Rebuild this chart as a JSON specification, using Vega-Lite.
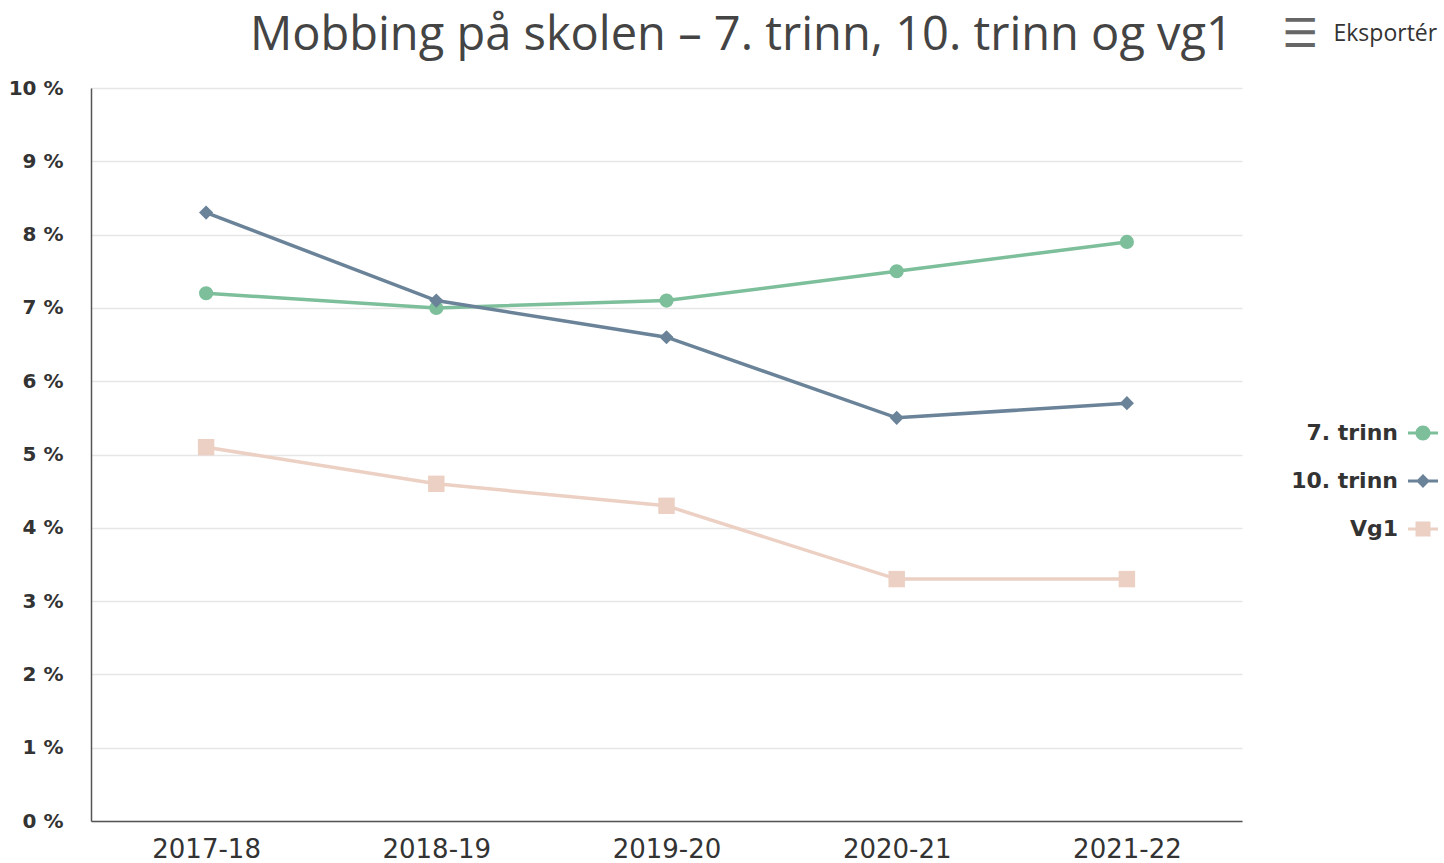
{
  "$schema": "https://vega.github.io/schema/vega-lite/v6.json",
  "width": 1151,
  "height": 733,
  "autosize": {"type": "none"},
  "padding": {"left": 91, "top": 88, "right": 202, "bottom": 42},
  "background": "white",
  "config": {
    "view": {"stroke": null},
    "font": "DejaVu Sans"
  },
  "title": {
    "text": "Mobbing på skolen – 7. trinn, 10. trinn og vg1",
    "font": "Open Sans",
    "fontSize": 47,
    "fontWeight": "normal",
    "color": "#444444",
    "anchor": "end",
    "baseline": "alphabetic",
    "frame": "group",
    "offset": -83,
    "dx": -9
  },
  "data": {
    "values": [
      {"year": "2017-18", "series": "7. trinn", "value": 7.2},
      {"year": "2018-19", "series": "7. trinn", "value": 7.0},
      {"year": "2019-20", "series": "7. trinn", "value": 7.1},
      {"year": "2020-21", "series": "7. trinn", "value": 7.5},
      {"year": "2021-22", "series": "7. trinn", "value": 7.9},
      {"year": "2017-18", "series": "10. trinn", "value": 8.3},
      {"year": "2018-19", "series": "10. trinn", "value": 7.1},
      {"year": "2019-20", "series": "10. trinn", "value": 6.6},
      {"year": "2020-21", "series": "10. trinn", "value": 5.5},
      {"year": "2021-22", "series": "10. trinn", "value": 5.7},
      {"year": "2017-18", "series": "Vg1", "value": 5.1},
      {"year": "2018-19", "series": "Vg1", "value": 4.6},
      {"year": "2019-20", "series": "Vg1", "value": 4.3},
      {"year": "2020-21", "series": "Vg1", "value": 3.3},
      {"year": "2021-22", "series": "Vg1", "value": 3.3}
    ]
  },
  "encoding": {
    "color": {
      "field": "series",
      "type": "nominal",
      "sort": ["7. trinn", "10. trinn", "Vg1"],
      "scale": {"domain": ["7. trinn", "10. trinn", "Vg1"], "range": ["#7cbf9a", "#6a8399", "#ecd0c3"]},
      "legend": {
        "title": null,
        "orient": "none",
        "legendX": 1317,
        "legendY": 330,
        "labelAlign": "right",
        "labelOffset": -40,
        "labelFontSize": 22,
        "labelFontWeight": 600,
        "labelColor": "#333333",
        "labelLimit": 300,
        "rowPadding": 22,
        "symbolSize": 900,
        "symbolStrokeWidth": 0,
        "encode": {
          "symbols": {
            "update": {
              "shape": {"signal": "datum.value === '7. trinn' ? 'M-1,-0.1H1V0.1H-1Z M0.5,0A0.5,0.5,0,1,1,-0.5,0A0.5,0.5,0,1,1,0.5,0Z' : datum.value === '10. trinn' ? 'M-1,-0.1H1V0.1H-1Z M0,-0.46L0.46,0L0,0.46L-0.46,0Z' : 'M-1,-0.1H1V0.1H-1Z M-0.5,-0.5H0.5V0.5H-0.5Z'"}
            }
          }
        }
      }
    }
  },
  "layer": [
    {
      "mark": {"type": "line", "strokeWidth": 3.5},
      "encoding": {
        "x": {
          "field": "year",
          "type": "ordinal",
          "scale": {"padding": 0.5},
          "axis": {
            "title": null,
            "labelAngle": 0,
            "labelFontSize": 26,
            "labelFontWeight": "normal",
            "labelColor": "#333333",
            "labelPadding": 15,
            "ticks": false,
            "grid": false,
            "domainColor": "#555555",
            "domainWidth": 1.5
          }
        },
        "y": {
          "field": "value",
          "type": "quantitative",
          "scale": {"domain": [0, 10], "nice": false},
          "axis": {
            "title": null,
            "values": [0,1,2,3,4,5,6,7,8,9,10],
            "labelExpr": "datum.value + ' %'",
            "labelFontSize": 20,
            "labelFontWeight": 600,
            "labelColor": "#333333",
            "labelPadding": 28,
            "ticks": false,
            "domain": true,
            "domainColor": "#555555",
            "domainWidth": 1.5,
            "gridColor": "#e6e6e6",
            "gridWidth": 1.5
          }
        }
      }
    },
    {
      "transform": [{"filter": "datum.series === '7. trinn'"}],
      "mark": {"type": "point", "filled": true, "size": 200, "opacity": 1, "shape": "circle"},
      "encoding": {
        "x": {
          "field": "year",
          "type": "ordinal",
          "axis": {
            "orient": "top",
            "labels": false,
            "ticks": false,
            "domain": false,
            "grid": false,
            "title": "Eksportér",
            "titleFont": "Open Sans",
            "titleFontSize": 23,
            "titleFontWeight": "normal",
            "titleColor": "#333333",
            "titleAlign": "left",
            "titleAnchor": null,
            "titleBaseline": "alphabetic",
            "titleX": 1242,
            "titleY": -48
          }
        },
        "y": {
          "field": "value",
          "type": "quantitative",
          "axis": {
            "orient": "right",
            "labels": false,
            "ticks": false,
            "domain": false,
            "grid": false,
            "title": "☰",
            "titleFontSize": 40,
            "titleFontWeight": "bold",
            "titleColor": "#666666",
            "titleAngle": 0,
            "titleAlign": "center",
            "titleBaseline": "middle",
            "titleX": 58,
            "titleY": -54
          }
        }
      }
    },
    {
      "transform": [{"filter": "datum.series === '10. trinn'"}],
      "mark": {"type": "point", "filled": true, "size": 200, "opacity": 1, "shape": "diamond"},
      "encoding": {
        "x": {"field": "year", "type": "ordinal", "axis": null},
        "y": {"field": "value", "type": "quantitative", "axis": null}
      }
    },
    {
      "transform": [{"filter": "datum.series === 'Vg1'"}],
      "mark": {"type": "point", "filled": true, "size": 270, "opacity": 1, "shape": "square"},
      "encoding": {
        "x": {"field": "year", "type": "ordinal", "axis": null},
        "y": {"field": "value", "type": "quantitative", "axis": null}
      }
    }
  ],
  "resolve": {"axis": {"x": "independent", "y": "independent"}}
}
